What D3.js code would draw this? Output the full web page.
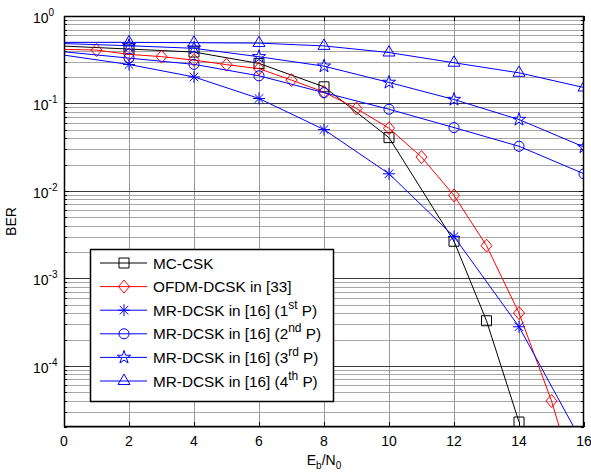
<!DOCTYPE html>
<html>
<head>
<meta charset="utf-8">
<script src="https://d3js.org/d3.v7.min.js"></script>
<style>
    body { margin: 0; background: #fff; }
    text { font-family: Arial, "Liberation Sans", sans-serif; fill: #000; }
</style>
</head>
<body>
<div id="chart"></div>
<script>
    // values
    var snrMc = [0, 2, 4, 6, 8, 10, 12, 13, 14];
    var berMc = [0.453, 0.419, 0.387, 0.287, 0.155, 0.0407, 0.00266, 3.28e-4, 2.28e-5];

    var snrOfdm = [0, 1, 2, 3, 4, 5, 6, 7, 8, 9, 10, 11, 12, 13, 14, 15, 16];
    var berOfdm = [0.415, 0.408, 0.364, 0.343, 0.313, 0.278, 0.250, 0.185, 0.135, 0.0875,
                   0.0521, 0.0244, 0.00888, 0.00237, 4.02e-4, 3.97e-5, 2.3e-6];

    var snrMr = [0, 2, 4, 6, 8, 10, 12, 14, 16];
    var berMr1 = [0.357, 0.279, 0.201, 0.114, 0.0503, 0.0157, 0.00301, 2.8e-4, 1.22e-5];
    var berMr2 = [0.390, 0.330, 0.280, 0.207, 0.133, 0.0859, 0.0530, 0.0324, 0.0157];
    var berMr3 = [0.484, 0.457, 0.427, 0.342, 0.267, 0.174, 0.111, 0.0655, 0.0318];
    var berMr4 = [0.500, 0.500, 0.495, 0.490, 0.455, 0.382, 0.292, 0.224, 0.152];

    var xTicks = [0, 2, 4, 6, 8, 10, 12, 14, 16];
    var yDecades = [1, 1e-1, 1e-2, 1e-3, 1e-4];
    var yExponents = ["0", "-1", "-2", "-3", "-4"];

    var legendMain = ["MC-CSK", "OFDM-DCSK in [33]", "MR-DCSK in [16] (1", "MR-DCSK in [16] (2",
                      "MR-DCSK in [16] (3", "MR-DCSK in [16] (4"];
    var legendSup = ["", "", "st", "nd", "rd", "th"];
    var legendTail = ["", "", " P)", " P)", " P)", " P)"];

    var series = [
        {x: snrMc, y: berMc, color: "#000000", marker: "square"},
        {x: snrOfdm, y: berOfdm, color: "#ff0000", marker: "diamond"},
        {x: snrMr, y: berMr1, color: "#0000ff", marker: "asterisk"},
        {x: snrMr, y: berMr2, color: "#0000ff", marker: "circle"},
        {x: snrMr, y: berMr3, color: "#0000ff", marker: "star"},
        {x: snrMr, y: berMr4, color: "#0000ff", marker: "triangle"}
    ];

    var margin = {top: 16, right: 7, bottom: 49, left: 64},
        width = 591 - margin.left - margin.right,
        height = 476 - margin.top - margin.bottom;

    var svg = d3.select("#chart")
        .append("svg")
            .attr("width", 591)
            .attr("height", 476)
        .append("g")
            .attr("transform", "translate(" + margin.left + "," + margin.top + ")");

    var x = d3.scaleLinear().domain([0, 16]).range([0, width]);
    var y = d3.scaleLog().domain([2e-5, 1]).range([height, 0]);

    // minor values 2..9 x 10^k inside the domain
    var minors = [];
    [-5, -4, -3, -2, -1].forEach(function(k) {
        for (var m = 2; m <= 9; m++) {
            var v = m * Math.pow(10, k);
            if (v >= 2e-5 && v < 1) minors.push(v);
        }
    });

    // grid
    svg.append("g").selectAll("line")
        .data(minors)
        .enter().append("line")
            .attr("x1", 0).attr("x2", width)
            .attr("y1", function(d) { return Math.round(y(d)) + 0.5; })
            .attr("y2", function(d) { return Math.round(y(d)) + 0.5; })
            .attr("stroke", "#a6a6a6");
    svg.append("g").selectAll("line")
        .data(xTicks.slice(1, -1))
        .enter().append("line")
            .attr("x1", function(d) { return Math.round(x(d)) + 0.5; })
            .attr("x2", function(d) { return Math.round(x(d)) + 0.5; })
            .attr("y1", 0).attr("y2", height)
            .attr("stroke", "#9a9a9a");
    svg.append("g").selectAll("line")
        .data(yDecades.slice(1))
        .enter().append("line")
            .attr("x1", 0).attr("x2", width)
            .attr("y1", function(d) { return Math.round(y(d)) + 0.5; })
            .attr("y2", function(d) { return Math.round(y(d)) + 0.5; })
            .attr("stroke", "#3a3a3a");

    // ticks (inside, on all four sides)
    var ticks = svg.append("g").attr("stroke", "#000");
    xTicks.forEach(function(d) {
        var px = Math.round(x(d)) + 0.5;
        ticks.append("line").attr("x1", px).attr("x2", px).attr("y1", height).attr("y2", height - 5);
        ticks.append("line").attr("x1", px).attr("x2", px).attr("y1", 0).attr("y2", 5);
    });
    yDecades.concat(minors).forEach(function(d) {
        var py = Math.round(y(d)) + 0.5;
        var len = yDecades.indexOf(d) >= 0 ? 5 : 3;
        ticks.append("line").attr("x1", 0).attr("x2", len).attr("y1", py).attr("y2", py);
        ticks.append("line").attr("x1", width).attr("x2", width - len).attr("y1", py).attr("y2", py);
    });

    // x tick labels
    svg.append("g").selectAll("text")
        .data(xTicks)
        .enter().append("text")
            .attr("x", function(d) { return x(d); })
            .attr("y", height + 19)
            .attr("text-anchor", "middle")
            .style("font-size", "14px")
            .text(function(d) { return d; });

    // y tick labels 10^k
    var yLab = svg.append("g").selectAll("text")
        .data(yDecades)
        .enter().append("text")
            .attr("x", -31)
            .attr("y", function(d) { return y(d) + 7; })
            .style("font-size", "14px");
    yLab.append("tspan").text("10");
    yLab.append("tspan")
        .attr("dy", -7)
        .style("font-size", "10px")
        .text(function(d, i) { return yExponents[i]; });

    // axis labels
    var xl = svg.append("text")
        .attr("x", width / 2)
        .attr("y", height + 38)
        .attr("text-anchor", "middle")
        .style("font-size", "14px");
    xl.append("tspan").text("E");
    xl.append("tspan").attr("dy", 4).style("font-size", "10px").text("b");
    xl.append("tspan").attr("dy", -4).text("/N");
    xl.append("tspan").attr("dy", 4).style("font-size", "10px").text("0");

    svg.append("text")
        .attr("transform", "translate(" + (-48) + "," + (height / 2) + ") rotate(-90)")
        .attr("text-anchor", "middle")
        .style("font-size", "14px")
        .text("BER");

    // curves
    svg.append("clipPath").attr("id", "clip")
        .append("rect").attr("width", width).attr("height", height);
    var plot = svg.append("g").attr("clip-path", "url(#clip)");

    function markerPath(type) {
        if (type == "square") return d3.symbol(d3.symbolSquare, 100)();
        if (type == "circle") return d3.symbol(d3.symbolCircle, 80)();
        if (type == "star") return d3.symbol(d3.symbolStar, 55)();
        if (type == "triangle") return d3.symbol(d3.symbolTriangle, 62)();
        if (type == "diamond") return "M0,-6.5L5.5,0L0,6.5L-5.5,0Z";
        return "M-6,0H6M0,-6V6M-4.3,-4.3L4.3,4.3M-4.3,4.3L4.3,-4.3";
    }

    var line = d3.line()
        .x(function(d) { return x(d[0]); })
        .y(function(d) { return y(d[1]); });

    series.forEach(function(s) {
        var pts = s.x.map(function(v, i) { return [v, s.y[i]]; });
        plot.append("path")
            .datum(pts)
            .attr("d", line)
            .attr("fill", "none")
            .attr("stroke", s.color)
            .attr("stroke-width", 1);
        plot.selectAll(null)
            .data(pts.filter(function(d) { return d[0] > 0; }))
            .enter().append("path")
                .attr("transform", function(d) { return "translate(" + x(d[0]) + "," + y(d[1]) + ")"; })
                .attr("d", markerPath(s.marker))
                .attr("fill", "none")
                .attr("stroke", s.color)
                .attr("stroke-width", 1);
    });

    // frame
    svg.append("rect")
        .attr("x", 0.5).attr("y", 0.5)
        .attr("width", width - 1).attr("height", height - 1)
        .attr("fill", "none")
        .attr("stroke", "#000")
        .attr("stroke-width", 1.5);

    // legend
    var lg = svg.append("g").attr("transform", "translate(26,233)");
    lg.append("rect")
        .attr("x", 0.5).attr("y", 0.5)
        .attr("width", 243).attr("height", 152)
        .attr("fill", "#fff")
        .attr("stroke", "#000")
        .attr("stroke-width", 1.5);
    series.forEach(function(s, i) {
        var ly = 14 + i * 23.6;
        lg.append("line")
            .attr("x1", 10).attr("x2", 57)
            .attr("y1", ly).attr("y2", ly)
            .attr("stroke", s.color);
        lg.append("path")
            .attr("transform", "translate(34," + ly + ")")
            .attr("d", markerPath(s.marker))
            .attr("fill", "none")
            .attr("stroke", s.color);
        var t = lg.append("text")
            .attr("x", 63)
            .attr("y", ly + 5.5)
            .style("font-size", "15.3px");
        t.append("tspan").text(legendMain[i]);
        if (legendSup[i]) {
            t.append("tspan").attr("dy", -7).style("font-size", "12px").text(legendSup[i]);
            t.append("tspan").attr("dy", 7).text(legendTail[i]);
        }
    });
</script>
</body>
</html>
